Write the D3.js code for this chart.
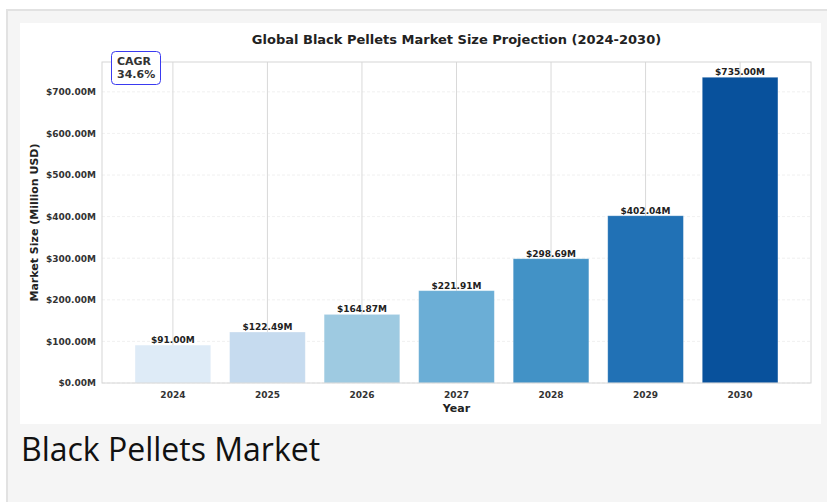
<!DOCTYPE html>
<html>
<head>
<meta charset="utf-8">
<script src="https://cdn.jsdelivr.net/npm/d3@7"></script>
<style>
  body { margin: 0; background: #ffffff; }
  #frame {
    position: absolute; left: 6px; top: 9px; width: 821px; height: 493px;
    background: #f5f5f5; border-left: 2px solid #e2e2e2; border-top: 2px solid #e2e2e2;
    box-sizing: border-box;
  }
  #caption {
    position: absolute; left: 21px; top: 427px;
    font-family: "Open Sans", sans-serif; font-size: 32px; color: #111;
  }
</style>
</head>
<body>
<div id="frame"></div>
<svg id="chart" width="827" height="502" style="position:absolute;left:0;top:0"></svg>
<div id="caption">Black Pellets Market</div>
<script>
const years = ["2024", "2025", "2026", "2027", "2028", "2029", "2030"];
const marketSize = [91.00, 122.49, 164.87, 221.91, 298.69, 402.04, 735.00];
const barColors = ["#deebf7", "#c6dbef", "#9ecae1", "#6baed6", "#4292c6", "#2171b5", "#08519c"];
const yTicks = [0, 100, 200, 300, 400, 500, 600, 700];
const cagrText = ["CAGR", "34.6%"];

const svg = d3.select("#chart");
const font = "DejaVu Sans, sans-serif";

// white card holding the figure
svg.append("rect")
  .attr("x", 20).attr("y", 23).attr("width", 801).attr("height", 401)
  .attr("fill", "#ffffff");

const plotLeft = 102, plotRight = 811, plotTop = 62, plotBottom = 383;

const x = d3.scaleBand()
  .domain(years)
  .range([plotLeft, plotRight])
  .paddingInner(0.2)
  .paddingOuter(0.35);

const y = d3.scaleLinear()
  .domain([0, d3.max(marketSize) * 1.05])
  .range([plotBottom, plotTop]);

// horizontal dashed grid
svg.append("g")
  .selectAll("line")
  .data(yTicks)
  .enter()
  .append("line")
  .attr("x1", plotLeft).attr("x2", plotRight)
  .attr("y1", d => y(d)).attr("y2", d => y(d))
  .attr("stroke", "#ececec")
  .attr("stroke-width", 0.8)
  .attr("stroke-dasharray", "3,2");

// vertical solid grid at each year
svg.append("g")
  .selectAll("line")
  .data(years)
  .enter()
  .append("line")
  .attr("x1", d => x(d) + x.bandwidth() / 2).attr("x2", d => x(d) + x.bandwidth() / 2)
  .attr("y1", plotTop).attr("y2", plotBottom)
  .attr("stroke", "#d9d9d9")
  .attr("stroke-width", 1);

// bars
svg.append("g")
  .selectAll("rect")
  .data(marketSize)
  .enter()
  .append("rect")
  .attr("x", (d, i) => x(years[i]))
  .attr("y", d => y(d))
  .attr("width", x.bandwidth())
  .attr("height", d => plotBottom - y(d))
  .attr("fill", (d, i) => barColors[i])
  .attr("stroke", "#ffffff")
  .attr("stroke-opacity", 0.3)
  .attr("stroke-width", 0.8);

// value labels
svg.append("g")
  .selectAll("text")
  .data(marketSize)
  .enter()
  .append("text")
  .attr("x", (d, i) => x(years[i]) + x.bandwidth() / 2)
  .attr("y", d => y(d) - 2)
  .attr("text-anchor", "middle")
  .attr("font-family", font)
  .attr("font-weight", "bold")
  .attr("font-size", "9px")
  .attr("fill", "#222")
  .text(d => "$" + d.toFixed(2) + "M");

// plot frame
svg.append("rect")
  .attr("x", plotLeft).attr("y", plotTop)
  .attr("width", plotRight - plotLeft).attr("height", plotBottom - plotTop)
  .attr("fill", "none")
  .attr("stroke", "#d6d6d6")
  .attr("stroke-width", 1);

// y axis
const yAxis = svg.append("g")
  .attr("transform", "translate(" + plotLeft + ",0)")
  .call(d3.axisLeft(y).tickValues(yTicks).tickSize(0).tickPadding(6)
    .tickFormat(d => "$" + d3.format(".2f")(d) + "M"));
yAxis.select(".domain").remove();
yAxis.selectAll("text")
  .attr("font-family", font)
  .attr("font-weight", "bold")
  .attr("font-size", "9px")
  .attr("fill", "#333");

// x axis
const xAxis = svg.append("g")
  .attr("transform", "translate(0," + plotBottom + ")")
  .call(d3.axisBottom(x).tickSize(0).tickPadding(9));
xAxis.select(".domain").remove();
xAxis.selectAll("text")
  .attr("font-family", font)
  .attr("font-weight", "bold")
  .attr("font-size", "9px")
  .attr("fill", "#333");

// title and axis labels
svg.append("text")
  .attr("x", (plotLeft + plotRight) / 2).attr("y", 44)
  .attr("text-anchor", "middle")
  .attr("font-family", font).attr("font-weight", "bold").attr("font-size", "13px")
  .attr("fill", "#222")
  .text("Global Black Pellets Market Size Projection (2024-2030)");

svg.append("text")
  .attr("x", (plotLeft + plotRight) / 2).attr("y", 412)
  .attr("text-anchor", "middle")
  .attr("font-family", font).attr("font-weight", "bold").attr("font-size", "11px")
  .attr("fill", "#222")
  .text("Year");

svg.append("text")
  .attr("transform", "translate(38," + (plotTop + plotBottom) / 2 + ") rotate(-90)")
  .attr("text-anchor", "middle")
  .attr("font-family", font).attr("font-weight", "bold").attr("font-size", "11px")
  .attr("fill", "#222")
  .text("Market Size (Million USD)");

// CAGR box
svg.append("rect")
  .attr("x", 111.5).attr("y", 51.5).attr("width", 49).attr("height", 33)
  .attr("rx", 4)
  .attr("fill", "#ffffff")
  .attr("stroke", "#3a3af0")
  .attr("stroke-width", 1);

svg.append("g")
  .selectAll("text")
  .data(cagrText)
  .enter()
  .append("text")
  .attr("x", 117)
  .attr("y", (d, i) => 65 + i * 13)
  .attr("font-family", font).attr("font-weight", "bold").attr("font-size", "11px")
  .attr("fill", "#333")
  .text(d => d);
</script>
</body>
</html>
